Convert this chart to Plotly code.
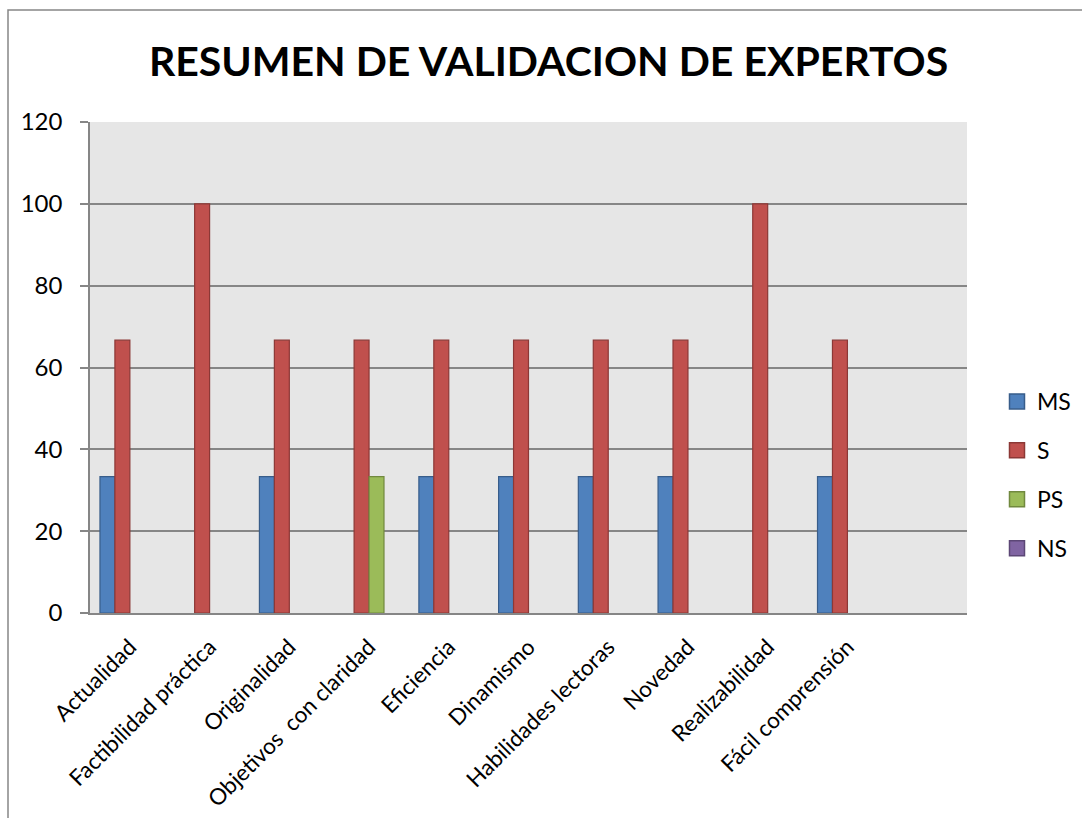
import plotly.graph_objects as go

categories = ["Actualidad", "Factibilidad práctica", "Originalidad", "Objetivos  con claridad",
              "Eficiencia", "Dinamismo", "Habilidades lectoras", "Novedad",
              "Realizabilidad", "Fácil comprensión"]
ms = [33.33, 0, 33.33, 0, 33.33, 33.33, 33.33, 33.33, 0, 33.33]
s = [66.67, 100, 66.67, 66.67, 66.67, 66.67, 66.67, 66.67, 100, 66.67]
ps = [0, 0, 0, 33.33, 0, 0, 0, 0, 0, 0]
ns = [0, 0, 0, 0, 0, 0, 0, 0, 0, 0]
series_names = ["MS", "S", "PS", "NS"]
y_ticks = [0, 20, 40, 60, 80, 100, 120]
n_slots = 11

fills = ["#4f81bd", "#c0504d", "#9bbb59", "#8064a2"]
borders = ["#385d8a", "#8c3836", "#71893f", "#5c4776"]

FONT = "Lato"
x = list(range(len(categories)))

fig = go.Figure()
for i, (name, vals) in enumerate(zip(series_names, [ms, s, ps, ns])):
    fig.add_trace(go.Bar(
        x=x, y=vals, name=name, legendgroup=name, showlegend=False,
        marker=dict(color=fills[i],
                    line=dict(color=borders[i], width=[1.2 if v else 0 for v in vals])),
    ))
for i, name in enumerate(series_names):
    fig.add_trace(go.Scatter(
        x=[None], y=[None], mode="markers", name=name, legendgroup=name,
        marker=dict(symbol="square", size=15, color=fills[i],
                    line=dict(color=borders[i], width=1.5)),
    ))

L, R, T, B = 90, 115, 122, 205
W, H = 1082, 818
pw, ph = W - L - R, H - T - B

fig.update_layout(
    width=W, height=H,
    margin=dict(l=L, r=R, t=T, b=B, pad=0, autoexpand=False),
    paper_bgcolor="white",
    plot_bgcolor="#e6e6e6",
    barmode="group",
    bargap=0.25,
    bargroupgap=0,
    font=dict(family=FONT, size=22, color="black"),
    title=dict(text="<b>RESUMEN DE VALIDACION DE EXPERTOS</b>",
               x=0.507, xanchor="center", y=1 - 62 / H, yanchor="middle",
               font=dict(family=FONT, size=41, color="black")),
    legend=dict(xref="container", yref="container",
                x=997 / W, xanchor="left", y=1 - 380 / H,
                yanchor="top", font=dict(family=FONT, size=23),
                tracegroupgap=16, itemwidth=30, bgcolor="rgba(0,0,0,0)",
                itemsizing="trace"),
    showlegend=True,
)
fig.update_xaxes(
    range=[-0.5, n_slots - 0.5],
    tickmode="array", tickvals=x, ticktext=categories,
    tickangle=-45, ticks="", showgrid=False,
    showline=True, linecolor="#868686", linewidth=2,
    tickfont=dict(family=FONT, size=22.5),
    zeroline=False, fixedrange=True,
    ticklabelstandoff=10,
)
fig.update_yaxes(
    range=[0, 120], tickmode="array", tickvals=y_ticks,
    ticks="outside", ticklen=8, tickcolor="#868686", tickwidth=1.5,
    showgrid=True, gridcolor="#868686", gridwidth=1.5,
    showline=True, linecolor="#868686", linewidth=1.5,
    zeroline=False, tickfont=dict(family=FONT, size=24),
    ticklabelstandoff=13,
)
# outer chart frame
fig.add_shape(type="rect", xref="paper", yref="paper",
              x0=(8 - L) / pw, x1=(W + 40 - L) / pw,
              y0=-(H + 40 - (H - B)) / ph, y1=(H - B - 10) / ph,
              line=dict(color="#868686", width=1.5), fillcolor="rgba(0,0,0,0)",
              layer="below")

fig.write_html("out.html", post_script="document.body.style.margin='0';",
               config={"displayModeBar": False})
